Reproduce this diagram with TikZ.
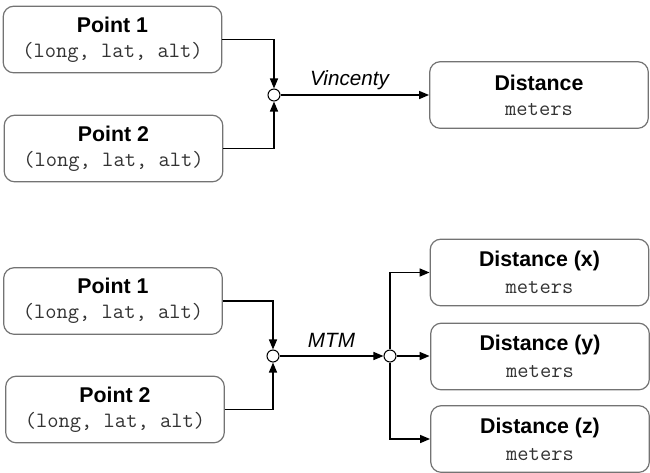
\documentclass[tikz,border=0pt]{standalone}
\usepackage{fontspec}
\setmainfont{Liberation Sans}
\usetikzlibrary{arrows.meta}
\tikzset{
	block/.style={shape=rectangle,rounded corners=8pt,draw=black!55,line width=0.9pt,fill=white,
		minimum width=164pt,minimum height=50pt,inner sep=0pt,align=center},
	junction/.style={shape=circle,draw=black,fill=white,line width=0.8pt,minimum size=9pt,inner sep=0pt},
	method/.style={font=\fontsize{15.5}{18}\selectfont\itshape,inner sep=0pt,anchor=base},
}
\tikzstyle{arrow} = [line width=1.1pt,-{Triangle[length=7.5pt,width=6pt]}]
\newcommand{\blocktext}[2]{{\fontsize{16}{19}\selectfont\bfseries #1}\\[7pt]{\fontsize{16.4}{17}\selectfont\ttfamily\color{black!80}#2}}

\begin{document}
\begin{tikzpicture}[x=0.75pt,y=-0.75pt]
						\useasboundingbox (0,0) rectangle (650,472);
						% Vincenty
						\node[block] (p1) at (112.5,39.5) {\blocktext{Point 1}{(long, lat, alt)}};
						\node[block] (p2) at (113.5,148.5) {\blocktext{Point 2}{(long, lat, alt)}};
						\node[block] (dist) at (539,95) {\blocktext{Distance}{meters}};
						\node[junction] (c1) at (274,95) {};
						\node[method] (vin) at (349.5,85) {Vincenty};
						
						\draw[arrow] (p1.east) -| (c1.north);
						\draw[arrow] (p2.east) -| (c1.south);
						\draw[arrow] (c1.east) -- (dist.west);
						
						% MTM
						\node[block] (q1) at (113,301) {\blocktext{Point 1}{(long, lat, alt)}};
						\node[block] (q2) at (115,409.5) {\blocktext{Point 2}{(long, lat, alt)}};
						\node[block] (dx) at (539.5,272.5) {\blocktext{Distance (x)}{meters}};
						\node[block] (dy) at (540,356.5) {\blocktext{Distance (y)}{meters}};
						\node[block] (dz) at (540,439) {\blocktext{Distance (z)}{meters}};
						\node[junction] (c2) at (273,356) {};
						\node[junction] (c3) at (390,356) {};
						\node[method] (mtm) at (331.5,347) {MTM};
						
						\draw[arrow] (q1.east) -| (c2.north);
						\draw[arrow] (q2.east) -| (c2.south);
						\draw[arrow] (c2.east) -- (c3.west);
						\draw[arrow] (c3.north) |- (dx.west);
						\draw[arrow] (c3.east) -- (dx.west |- c3);
						\draw[arrow] (c3.south) |- (dz.west);
					\end{tikzpicture}
\end{document}
